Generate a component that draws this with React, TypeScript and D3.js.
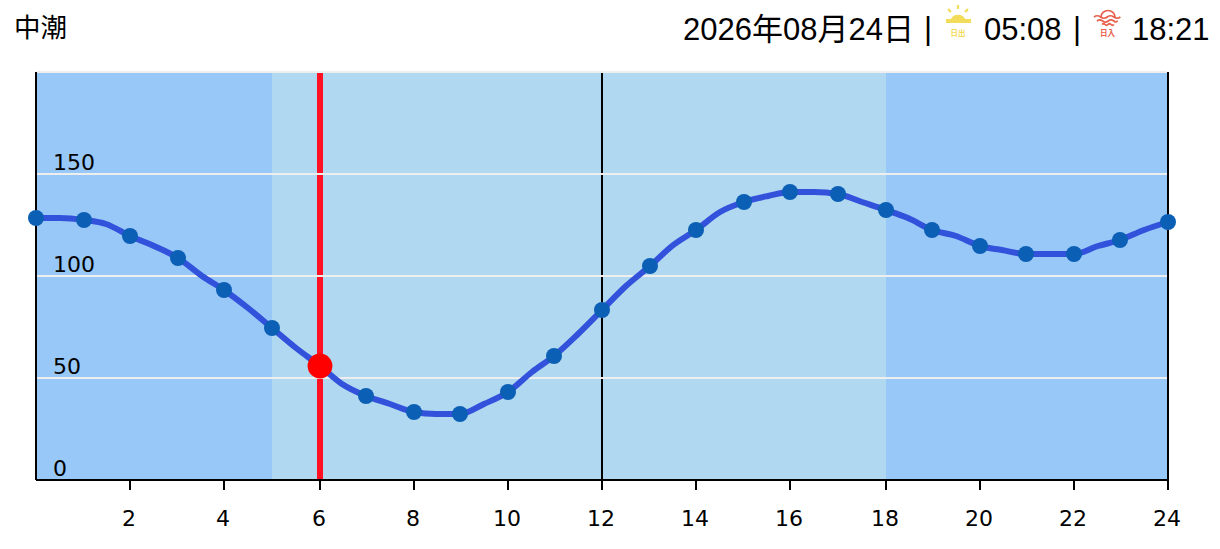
import { useEffect, useRef } from "react";
import * as d3 from "d3";

const TITLE = "中潮";
const DATE_TEXT = "2026年08月24日";
const SUNRISE_TEXT = "05:08";
const SUNSET_TEXT = "18:21";

// tide height per hour (the dots)
const TIDE = [
  128, 127, 120, 109, 93, 75, 56, 41, 33, 32, 43, 61, 83, 105, 123, 136, 141,
  140, 132, 123, 115, 111, 111, 118, 126,
];
// readings between the hours, only used by the line
const TIDE_HALF = [
  128, 125.3, 114.7, 100, 84, 65, 47.5, 37.7, 32.5, 37.7, 52.5, 72, 95, 115, 131,
  139, 141, 136.7, 128, 119.3, 113, 111, 114.7, 123,
];
const X_TICKS = [2, 4, 6, 8, 10, 12, 14, 16, 18, 20, 22, 24];
const Y_TICKS = [0, 50, 100, 150];
const GRID_LINES = [50, 100, 150, 200];
const DAY_START = 5;
const DAY_END = 18;
const NOW_HOUR = 6;
const NOON = 12;

const W = 1220;
const H = 549;
const CHART_FONT = "'DejaVu Sans', sans-serif";
const HEAD_FONT = "'Liberation Sans', 'Noto Sans CJK JP', sans-serif";
const ICON_FONT = "'Noto Sans CJK JP', sans-serif";

const App = () => {
  const chartRef = useRef(null);

  useEffect(() => {
    // chart is laid out in css pixels and drawn at 2x
    const svg = d3.select(chartRef.current).attr("transform", "scale(2)");
    svg.selectAll("*").remove();

    const xScale = d3.scaleLinear().domain([0, 24]).rangeRound([18, 584]);
    const yScale = d3.scaleLinear().domain([0, 200]).rangeRound([240, 36]);

    // background, night then daylight band
    svg
      .append("rect")
      .attr("x", xScale(0))
      .attr("y", yScale(200))
      .attr("width", xScale(24) - xScale(0))
      .attr("height", yScale(0) - yScale(200))
      .attr("fill", "#98c8f8");
    svg
      .append("rect")
      .attr("x", xScale(DAY_START))
      .attr("y", yScale(200))
      .attr("width", xScale(DAY_END) - xScale(DAY_START))
      .attr("height", yScale(0) - yScale(200))
      .attr("fill", "#b0d8f0");

    // left / noon / right verticals
    svg
      .selectAll(".vert")
      .data([0, NOON, 24])
      .join("line")
      .attr("x1", (d) => xScale(d))
      .attr("x2", (d) => xScale(d))
      .attr("y1", yScale(200))
      .attr("y2", yScale(0))
      .attr("stroke", "#000")
      .attr("stroke-width", 1);

    // now marker line
    svg
      .append("line")
      .attr("x1", xScale(NOW_HOUR))
      .attr("x2", xScale(NOW_HOUR))
      .attr("y1", yScale(200))
      .attr("y2", yScale(0))
      .attr("stroke", "#ff1023")
      .attr("stroke-width", 3);

    // grid goes over the verticals
    svg
      .selectAll(".grid")
      .data(GRID_LINES)
      .join("line")
      .attr("x1", xScale(0) + 0.5)
      .attr("x2", xScale(24) - 0.5)
      .attr("y1", (d) => yScale(d))
      .attr("y2", (d) => yScale(d))
      .attr("stroke", "#eeeeee")
      .attr("stroke-width", 1);

    // x axis
    const xAxis = d3
      .axisBottom(xScale)
      .tickValues(X_TICKS)
      .tickSize(5)
      .tickSizeOuter(0)
      .tickPadding(10)
      .offset(0);
    const xG = svg.append("g").attr("transform", `translate(0,${yScale(0)})`).call(xAxis);
    xG.selectAll("line").attr("stroke", "#000").attr("stroke-width", 1);
    xG.select(".domain").attr("stroke", "#000").attr("stroke-width", 1);
    xG.selectAll("text")
      .attr("fill", "#000")
      .attr("dx", -0.5)
      .style("font-family", CHART_FONT)
      .style("font-size", "11px");

    // y labels sit inside the plot, above their grid line
    svg
      .selectAll(".ylabel")
      .data(Y_TICKS)
      .join("text")
      .attr("x", 26.5)
      .attr("y", (d) => yScale(d) - 2)
      .attr("fill", "#000")
      .style("font-family", CHART_FONT)
      .style("font-size", "11px")
      .text((d) => d);

    // tide curve through hourly and half hour readings
    const linePoints = TIDE.flatMap((v, i) =>
      i < TIDE_HALF.length
        ? [
            [i, v],
            [i + 0.5, TIDE_HALF[i]],
          ]
        : [[i, v]]
    );
    const line = d3
      .line()
      .x((d) => xScale(d[0]))
      .y((d) => yScale(d[1]))
      .curve(d3.curveMonotoneX);
    svg
      .append("path")
      .attr("d", line(linePoints))
      .attr("fill", "none")
      .attr("stroke", "#3352dc")
      .attr("stroke-width", 3);

    svg
      .selectAll(".dot")
      .data(TIDE)
      .join("circle")
      .attr("cx", (_, i) => xScale(i))
      .attr("cy", (d) => yScale(d))
      .attr("r", 4)
      .attr("fill", "#0b5fb4");

    svg
      .append("circle")
      .attr("cx", xScale(NOW_HOUR))
      .attr("cy", yScale(TIDE[NOW_HOUR]))
      .attr("r", 6.2)
      .attr("fill", "#ff0000");
  }, []);

  const rays = [-45, 0, 45];

  return (
    <svg
      width={W}
      height={H}
      style={{ position: "absolute", left: 0, top: 0, background: "#fff" }}
    >
      <g ref={chartRef}></g>
      <g style={{ fontFamily: HEAD_FONT, fontSize: 31 }} fill="#000">
        <text x={14} y={37} fontSize={26.5}>{TITLE}</text>
        <text x={683} y={40}>{DATE_TEXT}</text>
        <text x={924} y={39}>|</text>
        <text x={984} y={40}>{SUNRISE_TEXT}</text>
        <text x={1073} y={39}>|</text>
        <text x={1132} y={40}>{SUNSET_TEXT}</text>
      </g>
      {/* sunrise icon */}
      <g stroke="#f3dc5a" fill="#f3dc5a">
        <path d="M950.5 20 a8 8 0 0 1 15 0 z" stroke="none" />
        <line x1={946} y1={21} x2={971} y2={21} strokeWidth={4} />
        {rays.map((a) => (
          <line
            key={a}
            x1={958 + 10 * Math.sin((a * Math.PI) / 180)}
            y1={19 - 10 * Math.cos((a * Math.PI) / 180)}
            x2={958 + 14 * Math.sin((a * Math.PI) / 180)}
            y2={19 - 14 * Math.cos((a * Math.PI) / 180)}
            strokeWidth={2.2}
          />
        ))}
        <text x={958} y={36} fontSize={7.5} fontWeight={700} textAnchor="middle" stroke="none" style={{ fontFamily: ICON_FONT }}>日出</text>
      </g>
      {/* sunset icon */}
      <g stroke="#e8604c" fill="none" strokeWidth={1.7}>
        <path d="M1101 17 a7 6.5 0 0 1 14 0" />
        <path d="M1094 17 q3.3 -2.5 6.6 0 t6.6 0 t6.6 0 t6.6 0" />
        <path d="M1097 21 q2.8 -2.2 5.6 0 t5.6 0 t5.6 0 t3.6 -0.5" />
        <path d="M1102 24.5 q1.5 -1.5 3 0 t3 0 t3 0 t3 0" />
        <text x={1107.5} y={36} fontSize={7.5} fontWeight={700} textAnchor="middle" fill="#e8604c" stroke="none" style={{ fontFamily: ICON_FONT }}>日入</text>
      </g>
    </svg>
  );
};

export default App;
